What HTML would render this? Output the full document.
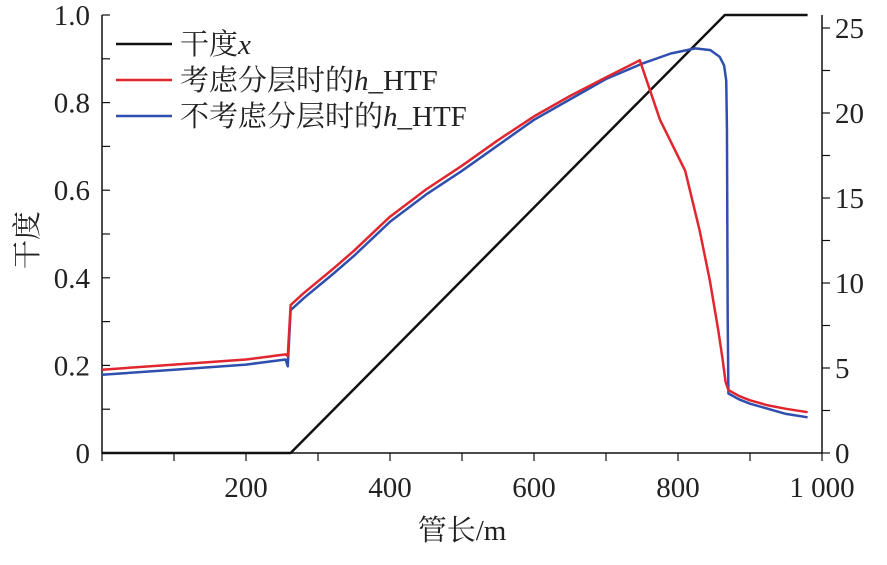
<!DOCTYPE html>
<html><head><meta charset="utf-8"><style>
body{margin:0;background:#fff}
svg text{font-family:"Liberation Serif","Noto Serif CJK SC",serif;fill:#222}
</style></head><body>
<svg id="c" width="887" height="560"></svg>
<script>
const xVals=[0,100,200,255,258,262,280,300,320,350,400,450,500,550,600,650,700,747,775,810,830,844,856,862,866,870,885,900,925,950,980];
const redVals=[4.9,5.2,5.5,5.8,5.7,8.7,9.4,10.1,10.8,11.9,13.9,15.5,16.9,18.4,19.8,21.0,22.1,23.1,19.6,16.6,13.1,10.2,7.2,5.5,4.2,3.7,3.35,3.1,2.8,2.6,2.4];
const blueX=[0,100,200,255,258,262,280,300,320,350,400,450,500,550,600,650,700,750,790,824,845,858,864,867,868,869,870,885,900,925,950,980];
const blueVals=[4.6,4.9,5.2,5.5,5.1,8.4,9.1,9.8,10.5,11.6,13.6,15.2,16.6,18.1,19.6,20.8,22.0,22.9,23.5,23.8,23.7,23.3,22.8,21.9,19.0,8.0,3.5,3.15,2.9,2.6,2.3,2.1];
const dryX=[0,262,865,980];
const dryVals=[0,0,1,1];
const xTicks=[200,400,600,800,1000];
const xTickLabels=["200","400","600","800","1 000"];
const yTicks=[0,0.2,0.4,0.6,0.8,1.0];
const yTickLabels=["0","0.2","0.4","0.6","0.8","1.0"];
const y2Ticks=[0,5,10,15,20,25];
const NS="http://www.w3.org/2000/svg";
const svg=document.getElementById('c');
const L=102,R=822,T=15,B=453;
const X=v=>L+(v/1000)*(R-L);
const Y=v=>B-v*(B-T);
const Y2=v=>B-v*17;
function el(t,a,p){const e=document.createElementNS(NS,t);for(const k in a)e.setAttribute(k,a[k]);(p||svg).appendChild(e);return e;}
const frame=el('path',{d:`M${L} ${T} V${B} H${R} V${T}`,fill:'none',stroke:'#111','stroke-width':1.5});


for(let i=0;i<=10;i++){const v=i*100;const t=el('line',{x1:X(v),x2:X(v),y1:B,y2:B+8,stroke:'#111','stroke-width':1.2});

}
xTicks.forEach((v,i)=>{const t=el('text',{x:X(v),y:497,'font-size':29,'text-anchor':'middle'});t.textContent=xTickLabels[i];

});
for(let i=0;i<=10;i++){const t=el('line',{x1:L,x2:L+8,y1:Y(i/10),y2:Y(i/10),stroke:'#111','stroke-width':1.2});

}
yTicks.forEach((v,i)=>{const t=el('text',{x:90,y:Y(v)+10,'font-size':29,'text-anchor':'end'});t.textContent=yTickLabels[i];

});
for(let i=0;i<=25;i+=2.5){const t=el('line',{x1:R,x2:R+8,y1:Y2(i),y2:Y2(i),stroke:'#111','stroke-width':1.2});

}
y2Ticks.forEach(v=>{const t=el('text',{x:835,y:Y2(v)+10,'font-size':29});t.textContent=v;

});
const xt=el('text',{x:462,y:540,'font-size':29,'text-anchor':'middle'});xt.textContent='管长/m';


const yt=el('text',{x:0,y:0,'font-size':29,'text-anchor':'middle',transform:'translate(37,240) rotate(-90)'});yt.textContent='干度';


function line(xs,ys,fy,col,name){const p=el('polyline',{points:xs.map((x,i)=>X(x)+','+fy(ys[i])).join(' '),fill:'none',stroke:col,'stroke-width':2.5,'stroke-linejoin':'round'});

}
line(dryX,dryVals,Y,'#111','dryness-line');
line(blueX,blueVals,Y2,'#2f4fae','h-htf-no-strat-line');
line(xVals,redVals,Y2,'#e0262e','h-htf-strat-line');
const leg=[['#111','干度','x'],['#e0262e','考虑分层时的','h','_HTF'],['#2f4fae','不考虑分层时的','h','_HTF']];
leg.forEach((d,i)=>{const y=44+i*36;const g=el('g',{});


el('line',{x1:116,x2:172,y1:y,y2:y,stroke:d[0],'stroke-width':2.5},g);
const t=el('text',{x:180,y:y+10,'font-size':29},g);
t.appendChild(document.createTextNode(d[1]));
const it=el('tspan',{'font-style':'italic'},t);it.textContent=d[2];
if(d[3])t.appendChild(document.createTextNode(d[3]));});
</script></body></html>
